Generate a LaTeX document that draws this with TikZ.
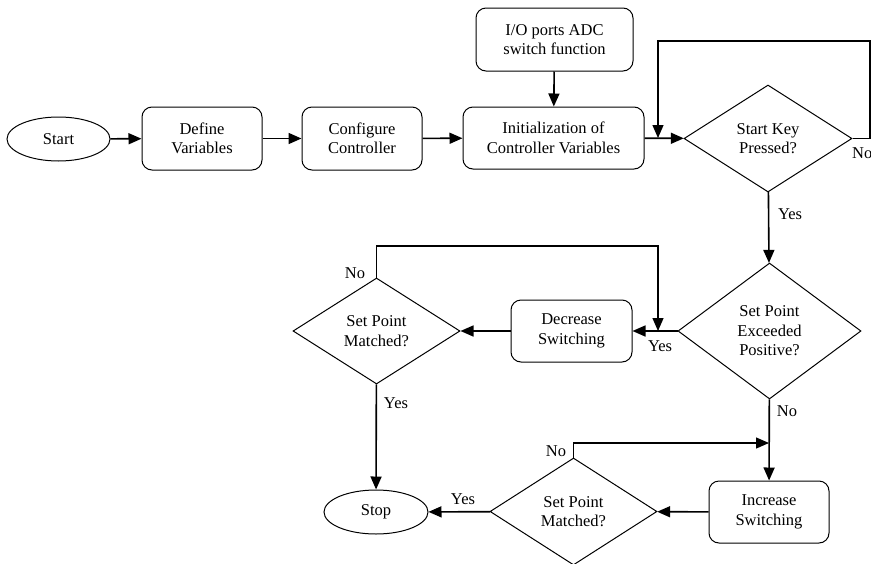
\documentclass[tikz,border=0pt]{standalone}
\usepackage{fontspec}
\setmainfont{Liberation Serif}
\usetikzlibrary{shapes.geometric,arrows.meta}
\begin{document}
\begin{tikzpicture}[x=1pt,y=-1pt,
  every node/.style={font=\fontsize{16.5}{19.5}\selectfont, align=center, inner sep=0pt},
  procbox/.style={draw, line width=1pt, rounded corners=10pt, minimum width=120pt, minimum height=63pt},
  term/.style={draw, line width=1pt, ellipse, minimum width=103pt, minimum height=44pt},
  decision/.style={draw, line width=1pt, diamond, minimum width=168pt, minimum height=107pt},
  tip/.style={-{Triangle[length=13pt,width=11pt]}},
  conn/.style={line width=1.6pt, tip},
  line/.style={line width=1.3pt},
  lbl/.style={font=\fontsize{16.5}{19.5}\selectfont}
]
\useasboundingbox (0,0) rectangle (871,563);

\node[term] (start) at (58.5,139) {Start};
\node[procbox] (define) at (202,138.5) {Define\\Variables};
\node[procbox] (config) at (362,138.5) {Configure\\Controller};
\node[procbox, minimum width=181pt, minimum height=62pt] (init) at (553.5,138) {Initialization of\\Controller Variables};
\node[procbox, minimum width=157pt, minimum height=63pt] (io) at (554.5,39.5) {I/O ports ADC\\switch function};
\node[decision] (key) at (768,138.5) {Start Key\\Pressed?};
\node[decision, minimum width=183pt, minimum height=136pt] (exc) at (769.5,331) {Set Point\\Exceeded\\Positive?};
\node[procbox, minimum width=121pt, minimum height=62pt] (dec) at (571.5,331) {Decrease\\Switching};
\node[decision, minimum width=167pt, minimum height=106pt] (m1) at (376.5,331) {Set Point\\Matched?};
\node[term, minimum width=104pt] (stop) at (376,512) {Stop};
\node[procbox, minimum width=120pt, minimum height=62pt] (inc) at (769,512) {Increase\\Switching};
\node[decision, minimum width=167pt, minimum height=107pt] (m2) at (573.5,511.5) {Set Point\\Matched?};

\coordinate (kr) at (870,41);
\coordinate (kl) at (658,41);
\coordinate (kin) at (658,138);
\coordinate (m1t) at (376.5,246);
\coordinate (m1r) at (658,246);
\coordinate (m1in) at (658,331);
\coordinate (m2t) at (573.5,443);
\coordinate (m2in) at (769,443);

\draw[conn] (start) -- (define);
\draw[conn] (define) -- (config);
\draw[conn] (config) -- (init);
\draw[conn] (io) -- (init);
\draw[conn] (init) -- (key);
\draw[line, tip] (key.east) -- (870,138.5) -- (kr) -- (kl) -- (kin);
\draw[conn] (key) -- (exc);
\draw[conn] (exc) -- (dec);
\draw[line, tip] (m1.north) -- (m1t) -- (m1r) -- (m1in);
\draw[conn] (dec) -- (m1);
\draw[conn] (m1) -- (stop);
\draw[conn] (exc) -- (inc);
\draw[line, tip] (m2.north) -- (m2t) -- (m2in);
\draw[conn] (inc) -- (m2);
\draw[conn] (m2) -- (stop);

\node[lbl, anchor=west] (lno1) at (852,153) {No};
\node[lbl] (lyes1) at (790,214) {Yes};
\node[lbl] (lyes2) at (660,346) {Yes};
\node[lbl] (lno2) at (355,273) {No};
\node[lbl] (lyes3) at (396,403) {Yes};
\node[lbl] (lno3) at (787,411) {No};
\node[lbl] (lno4) at (556,451) {No};
\node[lbl] (lyes4) at (463,499) {Yes};
\end{tikzpicture}
\end{document}
